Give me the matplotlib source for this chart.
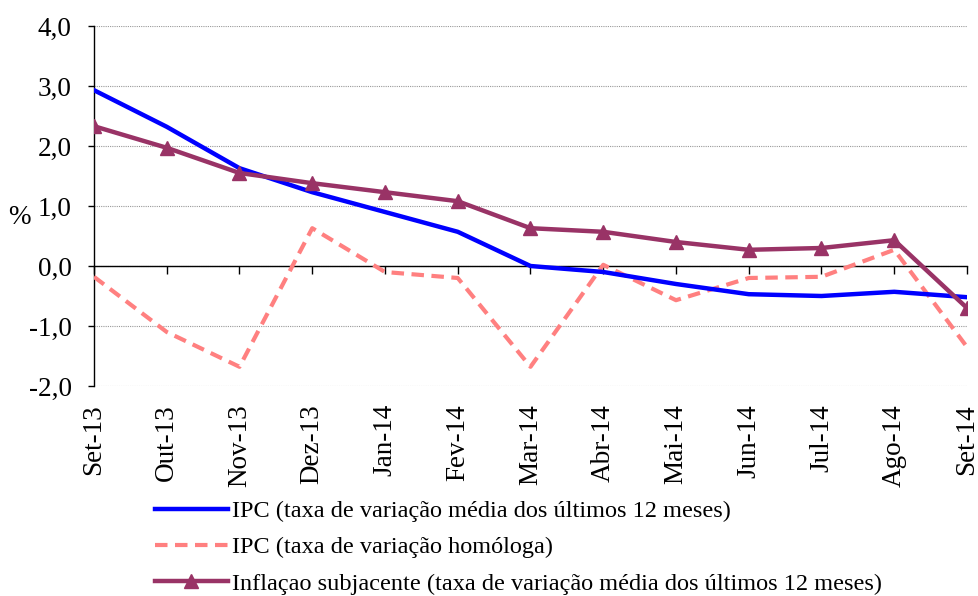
import matplotlib
matplotlib.use("Agg")
import matplotlib.pyplot as plt
import numpy as np

months = ["Set-13", "Out-13", "Nov-13", "Dez-13", "Jan-14", "Fev-14", "Mar-14",
          "Abr-14", "Mai-14", "Jun-14", "Jul-14", "Ago-14", "Set-14"]
ipc_media = [2.93, 2.32, 1.63, 1.23, 0.90, 0.57, 0.00, -0.10, -0.30, -0.47, -0.50, -0.43, -0.52]
ipc_homologa = [-0.18, -1.10, -1.68, 0.63, -0.10, -0.20, -1.68, 0.02, -0.57, -0.20, -0.18, 0.27, -1.35]
subjacente = [2.33, 1.97, 1.55, 1.38, 1.23, 1.08, 0.63, 0.57, 0.40, 0.27, 0.30, 0.43, -0.70]
yticks = [-2.0, -1.0, 0.0, 1.0, 2.0, 3.0, 4.0]
ytick_labels = ["-2,0", "-1,0", "0,0", "1,0", "2,0", "3,0", "4,0"]

labels = ["IPC (taxa de variação média dos últimos 12 meses)",
          "IPC (taxa de variação homóloga)",
          "Inflaçao subjacente (taxa de variação média dos últimos 12 meses)"]

plt.rcParams['font.family'] = ['Liberation Serif', 'DejaVu Serif']
FS_AX = 19.5
FS_LEG = 17.5

fig = plt.figure(figsize=(9.79, 5.96), dpi=100)
W, H = 979, 596
ax = fig.add_axes([94 / W, 1 - 386 / H, (967 - 94) / W, (386 - 26) / H])

x = np.arange(len(months))
l1, = ax.plot(x, ipc_media, color="#0000FF", lw=3.2, solid_joinstyle="round", zorder=4)
l2, = ax.plot(x, ipc_homologa, color="#FF8080", lw=3.0, dashes=(3, 1.8), zorder=3)
l3, = ax.plot(x, subjacente, color="#993366", lw=3.2, marker="^", markersize=10,
              zorder=5)

ax.set_xlim(0, 12)
ax.set_ylim(-2, 4)
ax.set_yticks(yticks)
ax.set_yticklabels(ytick_labels, fontsize=FS_AX)
ax.yaxis.grid(True, color="#999999", linestyle=(0, (1, 1)), linewidth=0.8)
ax.set_axisbelow(True)

for s in ["top", "right"]:
    ax.spines[s].set_visible(False)
ax.spines["left"].set_linewidth(1.0)
ax.spines["bottom"].set_position(("data", 0))
ax.spines["bottom"].set_linewidth(1.0)
ax.set_xticks(x)
ax.tick_params(axis="x", direction="out", length=5.8, labelbottom=False, width=1)
ax.tick_params(axis="y", direction="out", length=4.5, width=1, pad=11.5)

sec = ax.secondary_xaxis("bottom")
sec.set_xticks(x)
sec.set_xticklabels(months, rotation=90, fontsize=FS_AX)
sec.tick_params(length=0, pad=13)
sec.spines["bottom"].set_visible(False)

fig.text(19 / W, 1 - 218 / H, "%", fontsize=FS_AX, ha="center", va="center")

fig.legend([l1, l2, l3], labels, loc="upper left", bbox_to_anchor=(155 / W, 1 - 500 / H),
           frameon=False, fontsize=FS_LEG, handlelength=3.0, handletextpad=0.15,
           labelspacing=0.59, borderaxespad=0, borderpad=0)

fig.savefig("out.png", dpi=100)
